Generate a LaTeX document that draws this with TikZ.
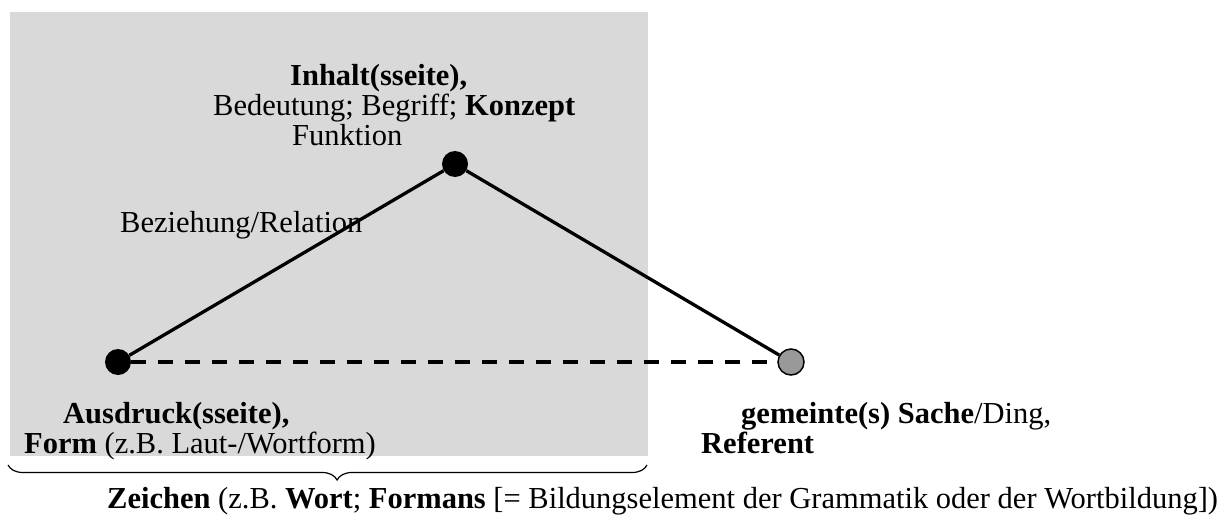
\documentclass[tikz,border=0pt]{standalone}
\usepackage{fontspec}
\setmainfont{Liberation Serif}
\usetikzlibrary{decorations.pathreplacing}
\definecolor{boxgray}{RGB}{217,217,217}
\definecolor{refgray}{RGB}{153,153,153}
\tikzset{
  dot/.style={circle,fill=black,inner sep=0pt,minimum size=26pt},
  txt/.style={anchor=base west,inner sep=0pt,font=\fontsize{30.5}{35}\selectfont},
}
\begin{document}
\begin{tikzpicture}[x=1pt,y=-1pt]
    \useasboundingbox (0,0) rectangle (1217,519);
    \fill[boxgray] (10,12) rectangle (648,456);
    % corners of the triangle
    \node[dot] (inhalt) at (455,164) {};
    \node[dot] (ausdruck) at (118,362) {};
    \node[dot,fill=refgray,draw=black,line width=1.5pt] (sache) at (791,362) {};
    \draw[line width=3.3pt] (ausdruck) -- (inhalt) -- (sache);
    \draw[line width=3.5pt,dash pattern=on 15pt off 12pt] (ausdruck) -- (sache);
    % texts
    \node[txt] (inhaltA) at (290,85) {\textbf{Inhalt(sseite),}};
    \node[txt] (inhaltB) at (213,115) {Bedeutung; Begriff; \textbf{Konzept}};
    \node[txt] (inhaltC) at (292,145) {Funktion};
    \node[txt] (relation) at (120,232) {Beziehung/Relation};
    \node[txt] (ausdruckA) at (63,423) {\textbf{Ausdruck(sseite),}};
    \node[txt] (ausdruckB) at (24,453) {\textbf{Form} (z.B. Laut-/Wortform)};
    \node[txt] (sacheA) at (741,423) {\textbf{gemeinte(s) Sache}/Ding,};
    \node[txt] (sacheB) at (701,453) {\textbf{Referent}};
    % the sign as a whole
    \coordinate (braceR) at (647,465);
    \coordinate (braceL) at (8,465);
    \draw[line width=1.2pt,decorate,decoration={brace,amplitude=15pt,aspect=0.485}] (braceR) -- (braceL);
    \node[txt] (zeichen) at (107,508) {\textbf{Zeichen} (z.B. \textbf{Wort}; \textbf{Formans} [= Bildungselement der Grammatik oder der Wortbildung])};
\end{tikzpicture}
\end{document}
